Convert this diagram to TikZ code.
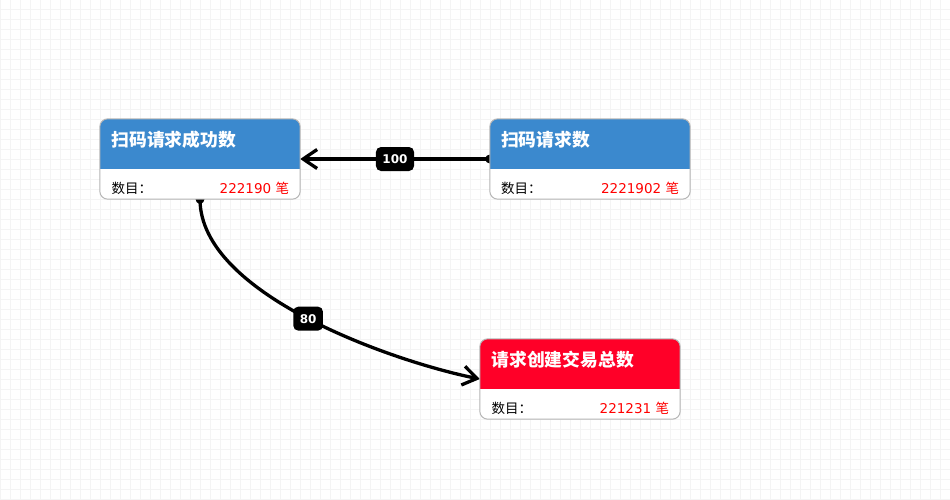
\documentclass[tikz,border=0pt]{standalone}
\usepackage{fontspec}
\newfontfamily\cjk{Noto Sans CJK SC}
\newfontfamily\dvs{DejaVu Sans}
\usetikzlibrary{arrows.meta}
\definecolor{hdrblue}{HTML}{3B89CE}
\definecolor{hdrred}{HTML}{FF0028}
\definecolor{numred}{HTML}{FF0000}
\definecolor{boxborder}{HTML}{B5B5B5}
\definecolor{gridc}{HTML}{F4F4F4}
\pgfdeclarelayer{bg}
\pgfdeclarelayer{edges}
\pgfsetlayers{bg,edges,main}
\newcommand\mycard[2]{%
  \begin{scope}
    \clip[rounded corners=8pt] (#1.north west) rectangle (#1.south east);
    \fill[white] (#1.north west) rectangle (#1.south east);
    \fill[#2] (#1.north west) rectangle ([yshift=-50pt]#1.north east);
  \end{scope}
  \draw[boxborder, line width=1pt, rounded corners=8pt] (#1.north west) rectangle (#1.south east);}
\begin{document}
\begin{tikzpicture}[x=1pt,y=-1pt,
  card/.style={rectangle, minimum width=200pt, minimum height=80pt, inner sep=0pt},
  title/.style={anchor=west, inner sep=0pt, text=white, font=\cjk\bfseries\fontsize{17.8}{20}\selectfont},
  lbl/.style={anchor=west, inner sep=0pt, font=\cjk\fontsize{13.5}{16}\selectfont},
  num/.style={anchor=east, inner sep=0pt, text=numred, font=\fontsize{13.5}{16}\selectfont},
  conn/.style={line width=3.3pt, -{Straight Barb[length=14pt,width=19pt]}},
  tag/.style={fill=black, rounded corners=5pt, text=white, font=\dvs\bfseries\fontsize{12}{14}\selectfont, minimum height=24pt, inner xsep=6.5pt, inner ysep=0pt}
]
\useasboundingbox (0,0) rectangle (950,500);
\begin{pgfonlayer}{bg}
  \fill[white] (0,0) rectangle (950,500);
  \foreach \i in {0,10,...,950} \draw[gridc, line width=1pt] (\i,0) -- (\i,500);
  \foreach \j in {0,...,49} \draw[gridc, line width=1pt] (0,{\j*10+9.5}) -- (950,{\j*10+9.5});
\end{pgfonlayer}

% cards
\node[card] (A) at (200,159) {};
\mycard{A}{hdrblue}
\node[title] (At) at ([xshift=11.5pt,yshift=-20.5pt]A.north west) {扫码请求成功数};
\node[lbl] (Al) at ([xshift=11.5pt,yshift=11pt]A.south west) {数目：};
\node[num] (An) at ([xshift=-11pt,yshift=11pt]A.south east) {\dvs 222190 \cjk 笔};

\node[card] (B) at (590,159) {};
\mycard{B}{hdrblue}
\node[title] (Bt) at ([xshift=11pt,yshift=-20.5pt]B.north west) {扫码请求数};
\node[lbl] (Bl) at ([xshift=11pt,yshift=11pt]B.south west) {数目：};
\node[num] (Bn) at ([xshift=-11pt,yshift=11pt]B.south east) {\dvs 2221902 \cjk 笔};

\node[card] (C) at (580,379) {};
\mycard{C}{hdrred}
\node[title] (Ct) at ([xshift=11.5pt,yshift=-20.5pt]C.north west) {请求创建交易总数};
\node[lbl] (Cl) at ([xshift=11.5pt,yshift=11pt]C.south west) {数目：};
\node[num] (Cn) at ([xshift=-11pt,yshift=11pt]C.south east) {\dvs 221231 \cjk 笔};

% connectors
\begin{pgfonlayer}{edges}
  \draw[conn] (B.west) -- node[tag] (L1) {100} (A.east);
  \fill (B.west) circle (4.5pt);
  \draw[conn] (A.south) .. controls (200,295) and (395,362) .. node[tag] (L2) {80} (C.west);
  \fill (A.south) circle (4.5pt);
\end{pgfonlayer}
\end{tikzpicture}
\end{document}
